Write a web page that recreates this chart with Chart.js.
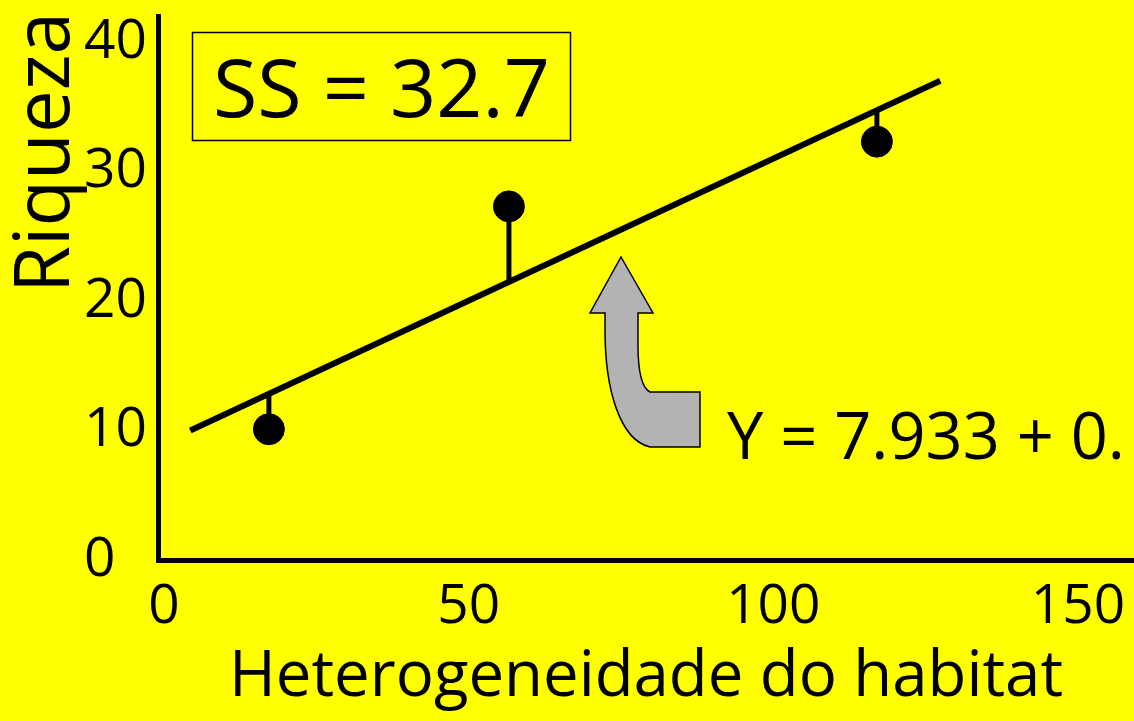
<!DOCTYPE html>
<html>
<head>
<meta charset="utf-8">
<script src="https://cdn.jsdelivr.net/npm/chart.js@4/dist/chart.umd.min.js"></script>
<style>
  html, body { margin: 0; padding: 0; background: #ffff00; }
  #wrap { width: 1134px; height: 721px; }
</style>
</head>
<body>
<div id="wrap"><canvas id="c" width="1134" height="721"></canvas></div>
<script>
// ---- data ----
const habitat = [17.2, 56.6, 117.0];          // x values of observations
const riqueza = [10.1, 27.3, 32.3];           // observed richness
const fitted  = [12.8, 21.5, 34.7];           // regression line value at each x (residual ends)
const lineX   = [4.3, 127.4];                 // regression line drawn extent (x)
const lineY   = [10.0, 37.0];                 // regression line drawn extent (y)
const xTicks  = [0, 50, 100, 150];
const yTicks  = [0, 10, 20, 30, 40];
const xTitle  = 'Heterogeneidade do habitat';
const yTitle  = 'Riqueza de espécies';
const ssText  = 'SS = 32.7';
const eqText  = 'Y = 7.933 + 0.';

const FONT = '"Open Sans", "DejaVu Sans", sans-serif';
const W = '500';

function fitSize(ctx, text, width, weight) {
  ctx.font = weight + ' 100px ' + FONT;
  return 100 * width / ctx.measureText(text).width;
}

const datasets = [];
for (let i = 0; i < habitat.length; i++) {
  datasets.push({
    type: 'line',
    data: [{x: habitat[i], y: riqueza[i]}, {x: habitat[i], y: fitted[i]}],
    borderColor: '#000', borderWidth: 5, pointRadius: 0, borderCapStyle: 'butt', order: 3
  });
}
datasets.push({
  type: 'line',
  data: lineX.map((x, i) => ({x, y: lineY[i]})),
  borderColor: '#000', borderWidth: 6, pointRadius: 0, borderCapStyle: 'butt', order: 2
});
datasets.push({
  type: 'scatter',
  data: habitat.map((x, i) => ({x, y: riqueza[i]})),
  backgroundColor: '#000', borderColor: '#000', pointRadius: 15.5, pointStyle: 'circle', order: 1
});

const decor = {
  id: 'decor',
  beforeDraw(chart) {
    const ctx = chart.ctx;
    ctx.save();
    ctx.fillStyle = '#ffff00';
    ctx.fillRect(0, 0, chart.width, chart.height);
    ctx.restore();
  },
  afterDraw(chart) {
    const ctx = chart.ctx;
    ctx.save();
    ctx.fillStyle = '#000';
    ctx.textBaseline = 'alphabetic';
    ctx.textAlign = 'left';

    // y axis title (rotated, clipped at top like the reference)
    let s = fitSize(ctx, 'Riqueza', 281, W);
    ctx.save();
    ctx.translate(69, 293);
    ctx.rotate(-Math.PI / 2);
    ctx.font = W + ' ' + s + 'px ' + FONT;
    ctx.fillText(yTitle, 0, 0);
    ctx.restore();

    // SS box
    ctx.strokeStyle = '#000';
    ctx.lineWidth = 1.5;
    ctx.strokeRect(192.5, 32.5, 378, 108);
    s = fitSize(ctx, ssText, 337, W);
    ctx.font = W + ' ' + s + 'px ' + FONT;
    ctx.fillText(ssText, 213, 117);

    // curved grey arrow
    ctx.beginPath();
    ctx.moveTo(621, 257);
    ctx.lineTo(653, 313);
    ctx.lineTo(638, 313);
    ctx.lineTo(638, 345);
    ctx.bezierCurveTo(638, 370, 642, 388, 650, 392);
    ctx.lineTo(700, 392);
    ctx.lineTo(700, 447);
    ctx.lineTo(650, 447);
    ctx.bezierCurveTo(620, 440, 605, 390, 605, 330);
    ctx.lineTo(605, 313);
    ctx.lineTo(590, 313);
    ctx.closePath();
    ctx.fillStyle = '#b3b3b3';
    ctx.fill();
    ctx.lineWidth = 1.5;
    ctx.strokeStyle = '#000';
    ctx.stroke();

    // equation
    ctx.fillStyle = '#000';
    s = fitSize(ctx, eqText, 398, W);
    ctx.font = W + ' ' + s + 'px ' + FONT;
    ctx.fillText(eqText, 727, 459);
    ctx.restore();
  }
};

new Chart(document.getElementById('c'), {
  data: { datasets },
  options: {
    responsive: false,
    devicePixelRatio: 1,
    animation: false,
    layout: { autoPadding: false, padding: { left: 84, top: 16, right: 0, bottom: 0 } },
    plugins: { legend: { display: false }, tooltip: { enabled: false } },
    scales: {
      x: {
        type: 'linear', min: -1, max: 159.2,
        afterBuildTicks: s => { s.ticks = xTicks.map(v => ({value: v})); },
        afterFit: s => { s.height = 161; s.paddingLeft = 0; s.paddingRight = 0; },
        grid: { display: false },
        border: { display: true, color: '#000', width: 5 },
        ticks: { color: '#000', padding: 6, font: { family: FONT, size: 55, weight: W }, maxRotation: 0, autoSkip: false },
        title: { display: true, text: xTitle, color: '#000', font: { family: FONT, size: 63.5, weight: W }, padding: { top: 0, bottom: 5 } }
      },
      y: {
        type: 'linear', min: 0, max: 42,
        afterBuildTicks: s => { s.ticks = yTicks.map(v => ({value: v})); },
        afterFit: s => { s.width = 74; s.paddingTop = 0; s.paddingBottom = 0; },
        grid: { display: false },
        border: { display: true, color: '#000', width: 5 },
        ticks: { color: '#000', crossAlign: 'far', padding: 0, font: { family: FONT, size: 55, weight: W }, autoSkip: false }
      }
    }
  },
  plugins: [decor]
});
</script>
</body>
</html>
